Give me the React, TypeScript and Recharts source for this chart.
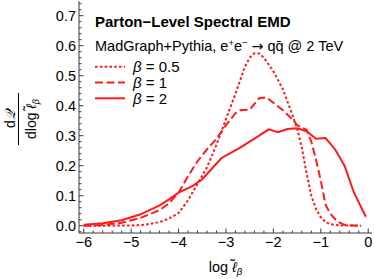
import React from 'react';
import { LineChart, Line, XAxis, YAxis } from 'recharts';

// ---- data ----
const beta05X = [-6, -5.5, -5, -4.8, -4.6, -4.4, -4.2, -4.0, -3.8, -3.6, -3.4, -3.2, -3.0, -2.8, -2.6, -2.5, -2.4, -2.3, -2.2, -2.0, -1.8, -1.6, -1.5, -1.4, -1.3, -1.2, -1.1, -1.0, -0.9, -0.8, -0.6, -0.15];
const beta05Y = [0, 0, 0.001, 0.002, 0.006, 0.012, 0.024, 0.042, 0.085, 0.14, 0.195, 0.27, 0.355, 0.44, 0.53, 0.56, 0.575, 0.574, 0.56, 0.515, 0.455, 0.37, 0.325, 0.26, 0.175, 0.1, 0.055, 0.028, 0.012, 0.005, 0.001, 0];

const beta1X = [-6, -5.6, -5.2, -4.8, -4.4, -4.2, -4.0, -3.8, -3.6, -3.4, -3.2, -3.0, -2.8, -2.7, -2.5, -2.3, -2.15, -2.0, -1.8, -1.6, -1.5, -1.3, -1.2, -1.1, -1.0, -0.9, -0.8, -0.7, -0.6, -0.5, -0.4, -0.15];
const beta1Y = [0, 0.002, 0.01, 0.026, 0.052, 0.075, 0.11, 0.165, 0.215, 0.255, 0.29, 0.335, 0.375, 0.385, 0.387, 0.425, 0.428, 0.41, 0.385, 0.355, 0.335, 0.32, 0.28, 0.22, 0.15, 0.07, 0.04, 0.022, 0.01, 0.003, 0.001, 0];

const beta2X = [-6, -5.6, -5.2, -4.8, -4.4, -4.2, -4.0, -3.8, -3.7, -3.5, -3.3, -3.1, -2.9, -2.7, -2.5, -2.3, -2.1, -1.9, -1.7, -1.5, -1.3, -1.1, -0.9, -0.7, -0.5, -0.3, -0.05];
const beta2Y = [0.003, 0.008, 0.018, 0.038, 0.068, 0.088, 0.11, 0.125, 0.133, 0.155, 0.19, 0.225, 0.243, 0.26, 0.28, 0.3, 0.321, 0.312, 0.322, 0.325, 0.315, 0.29, 0.292, 0.255, 0.2, 0.11, 0.03];

const xMajorTicks = [-6, -5, -4, -3, -2, -1, 0];
const yMajorTicks = [0, 0.1, 0.2, 0.3, 0.4, 0.5, 0.6, 0.7];
const xTicks = Array.from({ length: 31 }, (_, i) => Math.round((-6 + i * 0.2) * 100) / 100);
const yTicks = Array.from({ length: 39 }, (_, i) => Math.round((-0.02 + i * 0.02) * 1000) / 1000);

const legendLabels = ['0.5', '1', '2'];

const toData = (xs: number[], ys: number[]) => xs.map((x, i) => ({ x, y: ys[i] }));
const d05 = toData(beta05X, beta05Y);
const d1 = toData(beta1X, beta1Y);
const d2 = toData(beta2X, beta2Y);

// ---- style ----
const FONT = '"Liberation Sans", Arial, Helvetica, sans-serif';
const FRAME = '#3a3a3a';
const RED = '#ff1a1a';
const DOT = '2.6 2.2';
const DASH = '8 3.5';
const MAJ = 4.5;
const MIN = 2.5;

const near = (v: number, list: number[]) => list.some((m) => Math.abs(m - v) < 1e-6);
const fmtX = (v: number) => (v === 0 ? '0' : '\u2212' + Math.abs(v));

const BottomTick = (p: any) => {
  const { x, y, payload } = p;
  const major = near(payload.value, xMajorTicks);
  return (
    <g>
      <line x1={x} x2={x} y1={y} y2={y - (major ? MAJ : MIN)} stroke={FRAME} strokeWidth={1} />
      {major && (
        <text x={x} y={y + 13.7} textAnchor="middle" fontSize={14.5} fontFamily={FONT} fill="#000">
          {fmtX(payload.value)}
        </text>
      )}
    </g>
  );
};
const TopTick = (p: any) => {
  const { x, y, payload } = p;
  const major = near(payload.value, xMajorTicks);
  return <line x1={x} x2={x} y1={y} y2={y + (major ? MAJ : MIN)} stroke={FRAME} strokeWidth={1} />;
};
const LeftTick = (p: any) => {
  const { x, y, payload } = p;
  const major = near(payload.value, yMajorTicks);
  return (
    <g>
      <line x1={x} x2={x + (major ? MAJ : MIN)} y1={y} y2={y} stroke={FRAME} strokeWidth={1} />
      {major && (
        <text x={x - 3} y={y + 5.2} textAnchor="end" fontSize={14.5} fontFamily={FONT} fill="#000">
          {payload.value.toFixed(1)}
        </text>
      )}
    </g>
  );
};
const RightTick = (p: any) => {
  const { x, y, payload } = p;
  const major = near(payload.value, yMajorTicks);
  return <line x1={x} x2={x - (major ? MAJ : MIN)} y1={y} y2={y} stroke={FRAME} strokeWidth={1} />;
};

const X_DOMAIN: [number, number] = [-6.1, 0.08];
const Y_DOMAIN: [number, number] = [-0.0243, 0.749];

export default function App() {
  const dashes = [DOT, DASH, undefined];
  return (
    <div style={{ position: 'absolute', left: 0, top: 0, width: 374, height: 279, background: '#fff' }}>
      <LineChart width={374} height={279} margin={{ top: 1, right: 2, left: 0, bottom: 0 }}>
        <XAxis
          xAxisId={0}
          dataKey="x"
          type="number"
          domain={X_DOMAIN}
          allowDataOverflow
          ticks={xTicks}
          interval={0}
          height={46}
          tickSize={0}
          tickMargin={0}
          tickLine={false}
          axisLine={{ stroke: FRAME, strokeWidth: 1 }}
          tick={<BottomTick />}
        />
        <XAxis
          xAxisId="top"
          orientation="top"
          dataKey="x"
          type="number"
          domain={X_DOMAIN}
          allowDataOverflow
          ticks={xTicks}
          interval={0}
          height={0}
          tickSize={0}
          tickMargin={0}
          tickLine={false}
          axisLine={{ stroke: FRAME, strokeWidth: 1 }}
          tick={<TopTick />}
        />
        <YAxis
          yAxisId={0}
          type="number"
          domain={Y_DOMAIN}
          allowDataOverflow
          ticks={yTicks}
          interval={0}
          width={79}
          tickSize={0}
          tickMargin={0}
          tickLine={false}
          axisLine={{ stroke: FRAME, strokeWidth: 1 }}
          tick={<LeftTick />}
        />
        <YAxis
          yAxisId="right"
          orientation="right"
          type="number"
          domain={Y_DOMAIN}
          allowDataOverflow
          ticks={yTicks}
          interval={0}
          width={0}
          tickSize={0}
          tickMargin={0}
          tickLine={false}
          axisLine={{ stroke: FRAME, strokeWidth: 1 }}
          tick={<RightTick />}
        />
        <Line data={d2} dataKey="y" type="linear" stroke={RED} strokeWidth={2} dot={false} isAnimationActive={false} />
        <Line data={d1} dataKey="y" type="linear" stroke={RED} strokeWidth={2} strokeDasharray={DASH} dot={false} isAnimationActive={false} />
        <Line data={d05} dataKey="y" type="linear" stroke={RED} strokeWidth={2} strokeDasharray={DOT} dot={false} isAnimationActive={false} />
      </LineChart>
      <svg width={374} height={279} style={{ position: 'absolute', left: 0, top: 0, pointerEvents: 'none' }}>
        <text x={95} y={27} fontSize={15} fontWeight="bold" fontFamily={FONT} fill="#000">
          Parton−Level Spectral EMD
        </text>
        <text x={95} y={51} fontSize={14.5} fontFamily={FONT} fill="#000">
          MadGraph+Pythia, e<tspan fontSize={9.5} dy={-5}>+</tspan>
          <tspan dy={5}>e</tspan>
          <tspan fontSize={9.5} dy={-5}>−</tspan>
          <tspan dy={5}> </tspan>
          <tspan fontFamily='"DejaVu Sans", sans-serif' fontSize={14}>→</tspan>
          <tspan> qq̄ @ 2 TeV</tspan>
        </text>
        {legendLabels.map((lab, i) => (
          <g key={lab}>
            <line x1={95} x2={125} y1={66.7 + i * 15.8} y2={66.7 + i * 15.8} stroke={RED} strokeWidth={2} strokeDasharray={dashes[i]} />
            <text x={133} y={72 + i * 15.8} fontSize={15} fontFamily={FONT} fill="#000">
              <tspan fontStyle="italic">β</tspan> = {lab}
            </text>
          </g>
        ))}
        <text x={225.5} y={272} textAnchor="middle" fontSize={14.5} fontFamily={FONT} fill="#000">
          log <tspan fontStyle="italic">ℓ̃</tspan>
          <tspan fontSize={9.5} fontStyle="italic" dy={3}>β</tspan>
        </text>
        <g transform="translate(0,119) rotate(-90)">
          <text x={0} y={15} textAnchor="middle" fontSize={14} fontFamily={FONT} fill="#000">
            d<tspan fontStyle="italic">𝒬</tspan>
          </text>
          <line x1={-26} x2={26} y1={18.5} y2={18.5} stroke="#000" strokeWidth={1} />
          <text x={0} y={36} textAnchor="middle" fontSize={14} fontFamily={FONT} fill="#000">
            dlog <tspan fontStyle="italic">ℓ̃</tspan>
            <tspan fontSize={9} fontStyle="italic" dy={3}>β</tspan>
          </text>
        </g>
      </svg>
    </div>
  );
}
